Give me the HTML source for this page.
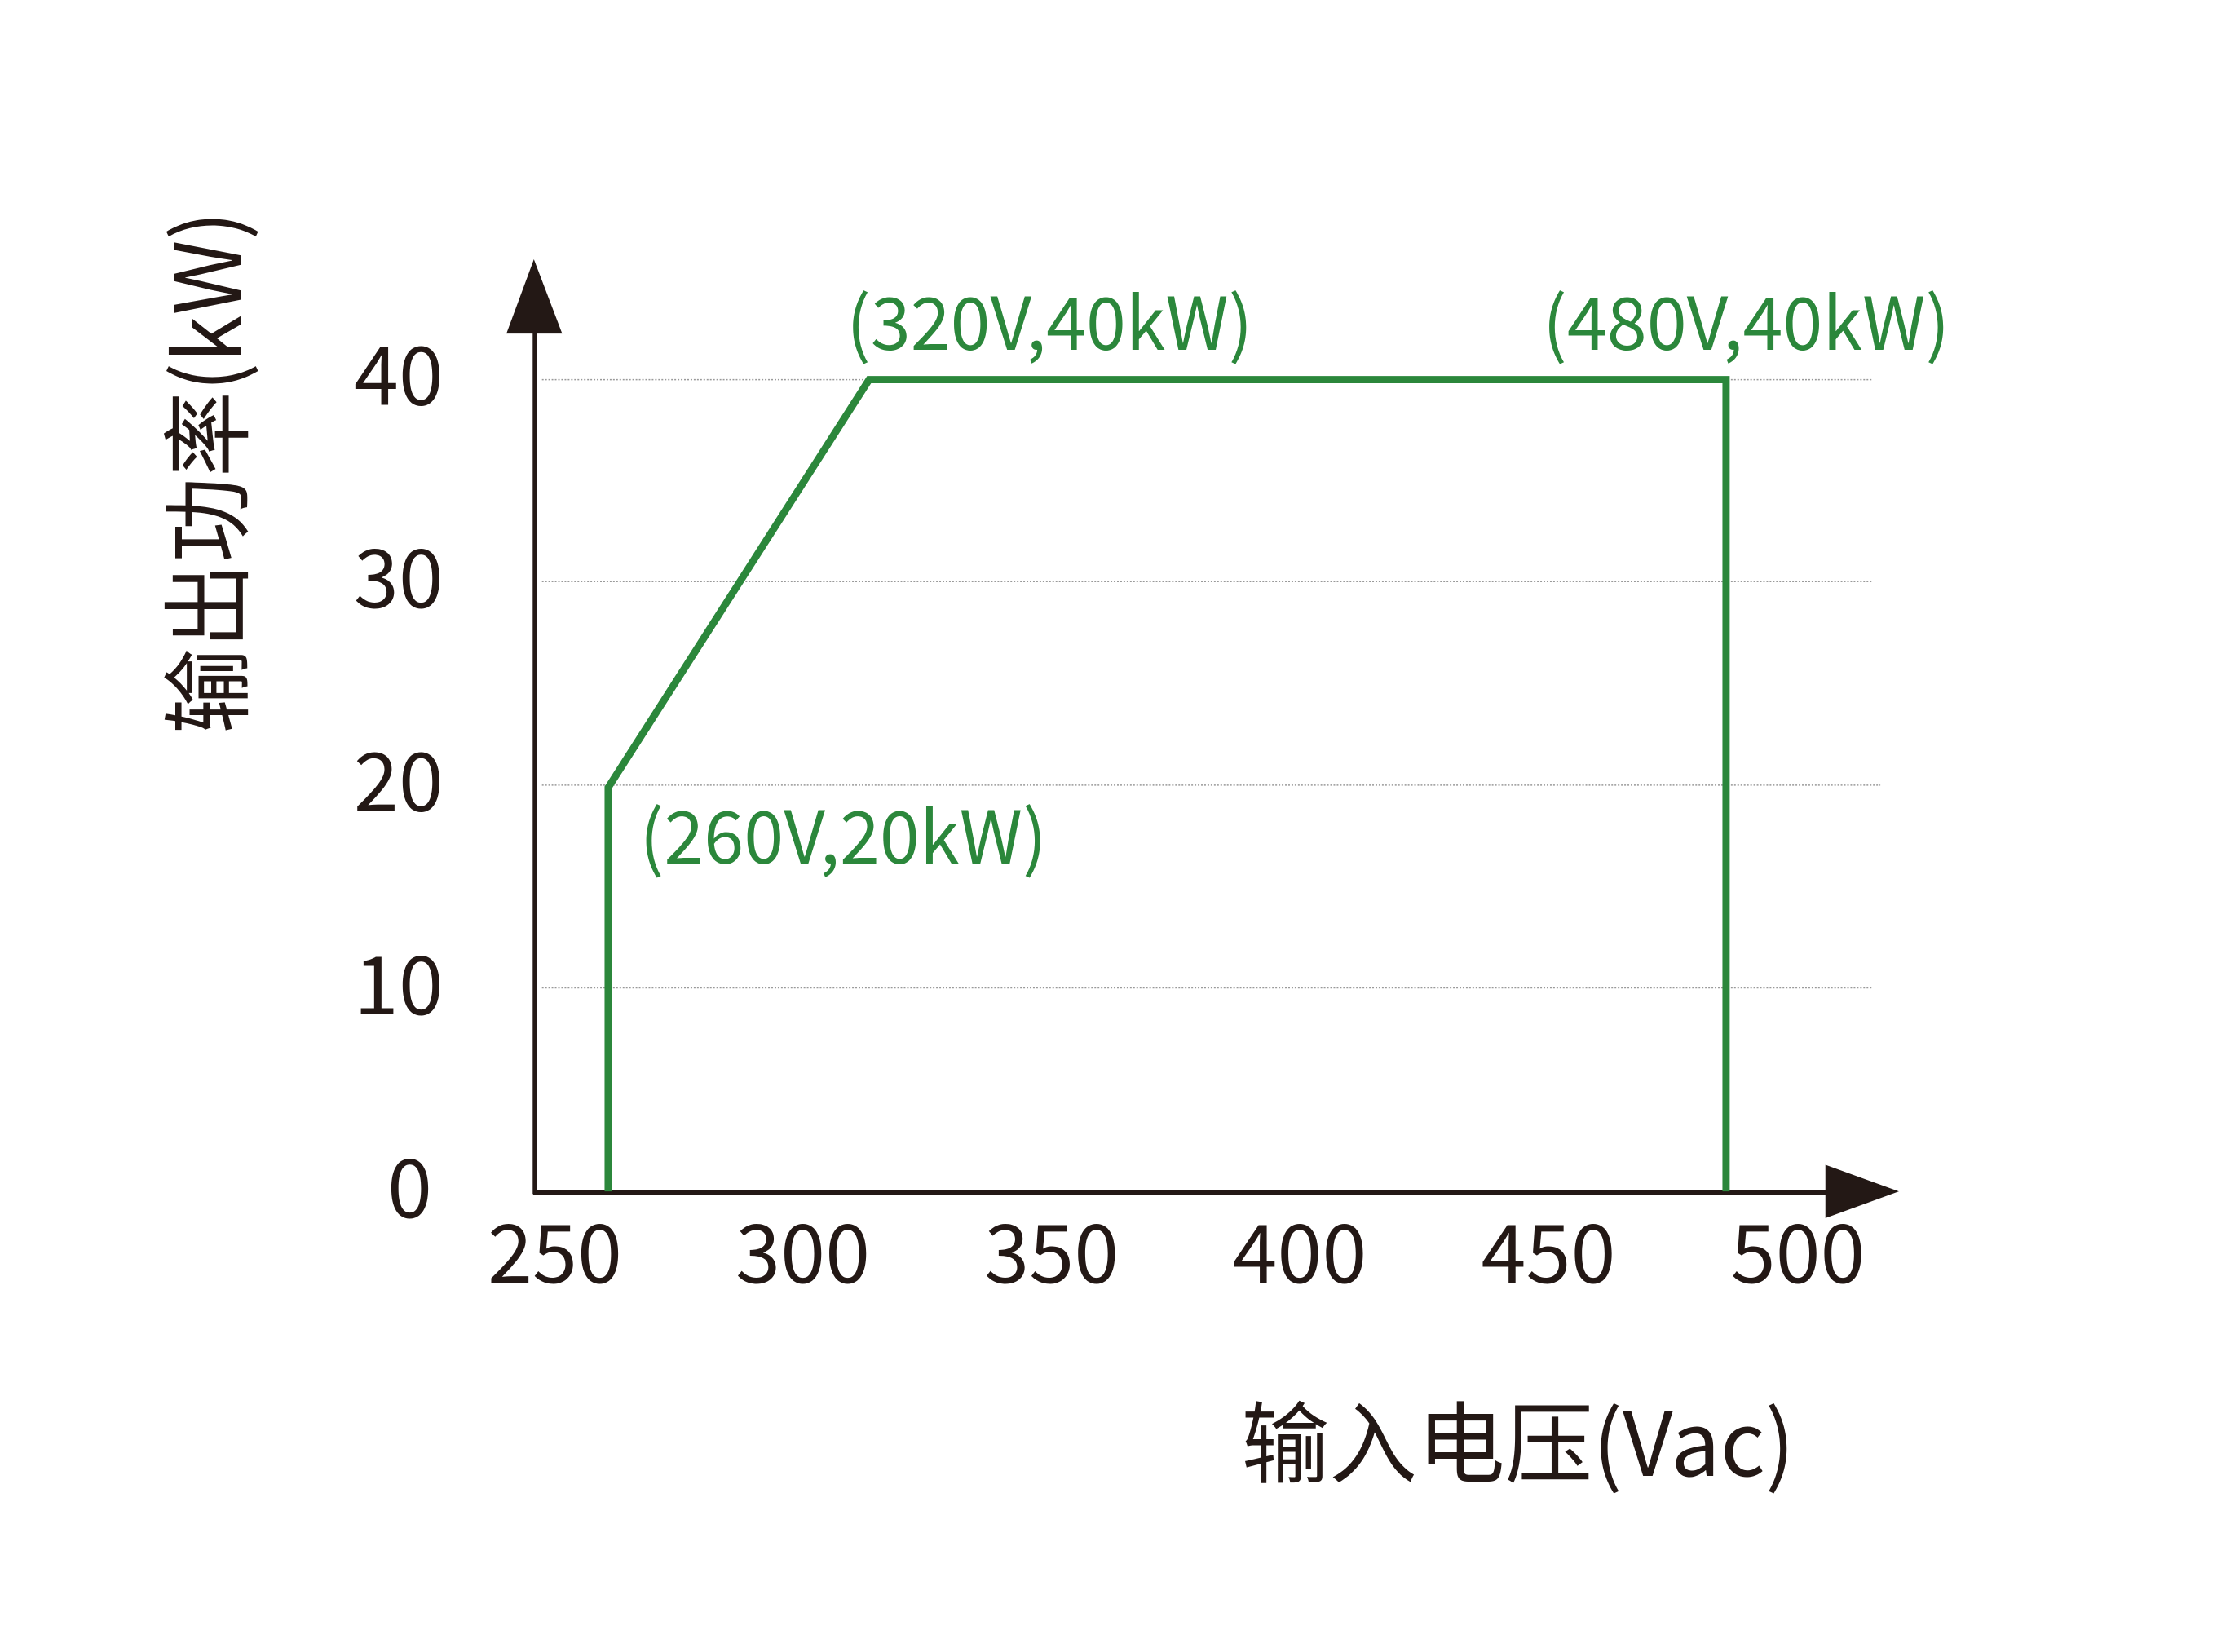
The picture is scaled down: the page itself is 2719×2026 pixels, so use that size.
<!DOCTYPE html>
<html><head><meta charset="utf-8"><style>
html,body{margin:0;padding:0;background:#fff;}
svg{display:block;}
text{font-family:"Noto Sans CJK SC","Liberation Sans",sans-serif;}
</style></head><body>
<svg width="2719" height="2026" viewBox="0 0 2719 2026" xmlns="http://www.w3.org/2000/svg">
<g transform="scale(0.9906)">
<g stroke="#999" stroke-width="1.5" stroke-dasharray="2,2">
<line x1="671" y1="470" x2="2318" y2="470"/>
<line x1="671" y1="720" x2="2318" y2="720"/>
<line x1="671" y1="972" x2="2328" y2="972"/>
<line x1="671" y1="1223" x2="2318" y2="1223"/>
</g>
<line x1="662" y1="405" x2="662" y2="1478" stroke="#231815" stroke-width="5"/>
<polygon points="661,321 627,413 696,413" fill="#231815"/>
<line x1="660" y1="1476" x2="2265" y2="1476" stroke="#231815" stroke-width="6"/>
<polygon points="2351,1475 2260,1442 2260,1508" fill="#231815"/>
<polyline points="753,1475 753,975 1076,470 2137,470 2137,1475" fill="none" stroke="#2b873b" stroke-width="9" stroke-linejoin="miter"/>
<g fill="#231815" font-size="100" text-anchor="end">
<text x="549" y="501">40</text>
<text x="549" y="752">30</text>
<text x="549" y="1004">20</text>
<text x="549" y="1256">10</text>
<text x="535" y="1507">0</text>
</g>
<g fill="#231815" font-size="100" text-anchor="middle">
<text x="687" y="1588">250</text>
<text x="994" y="1588">300</text>
<text x="1302" y="1588">350</text>
<text x="1609" y="1588">400</text>
<text x="1917" y="1588">450</text>
<text x="2226" y="1588">500</text>
</g>
<g fill="#2b873b" font-size="90">
<text x="1048" y="433" textLength="503" lengthAdjust="spacingAndGlyphs">(320V,40kW)</text>
<text x="1910" y="433" textLength="504" lengthAdjust="spacingAndGlyphs">(480V,40kW)</text>
<text x="792" y="1069" textLength="504" lengthAdjust="spacingAndGlyphs">(260V,20kW)</text>
</g>
<text x="1537" y="1827" font-size="110" fill="#231815" textLength="685" lengthAdjust="spacingAndGlyphs">输入电压(Vac)</text>
<text transform="translate(298,585) rotate(-90)" text-anchor="middle" font-size="112" fill="#231815" textLength="647" lengthAdjust="spacingAndGlyphs">输出功率(kW)</text>
</g>
</svg>
</body></html>
